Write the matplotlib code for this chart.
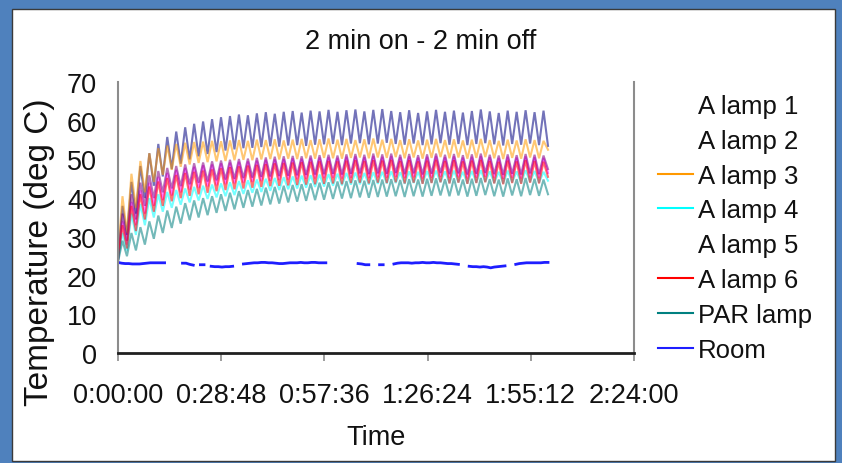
import numpy as np
import matplotlib
matplotlib.use("Agg")
import matplotlib.pyplot as plt
from matplotlib.lines import Line2D
from matplotlib.patches import Rectangle

plt.rcParams['font.family'] = ['Liberation Sans', 'DejaVu Sans']

# ---------------- data ----------------
title = "2 min on - 2 min off"
x_label = "Time"
y_label = "Temperature (deg C)"
x_tick_minutes = [0, 28.8, 57.6, 86.4, 115.2, 144]
x_tick_labels = ["0:00:00", "0:28:48", "0:57:36", "1:26:24", "1:55:12", "2:24:00"]
y_ticks = [0, 10, 20, 30, 40, 50, 60, 70]

lamp_sample_min = 1.25   # start, then alternating peak / trough readings
room_sample_min = 1.0

series_names = ["A lamp 1", "A lamp 2", "A lamp 3", "A lamp 4",
                "A lamp 5", "A lamp 6", "PAR lamp", "Room"]

lamp1_start = 24.0
lamp1_peaks = [38.0, 44.2, 48.3, 51.6, 54.0, 55.8, 57.2, 58.3, 59.2, 59.8,
               60.4, 60.9, 61.2, 61.6, 61.4, 61.9, 62.2, 61.8, 62.3, 62.5,
               62.1, 62.6, 62.4, 62.8, 62.3, 62.7, 62.9, 62.4, 62.8, 63.0,
               62.5, 62.2, 62.7, 62.0, 62.4, 62.8, 62.3, 62.6, 62.1, 62.5,
               62.9, 62.4, 62.0, 62.6, 62.3, 62.7, 62.2, 62.6]
lamp1_troughs = [30.5, 36.0, 40.0, 43.2, 45.6, 47.5, 48.9, 50.0, 50.8, 51.4,
                 51.9, 52.3, 52.6, 52.9, 53.0, 53.2, 53.4, 53.3, 53.6, 53.7,
                 53.5, 53.8, 53.9, 54.0, 53.7, 54.1, 54.2, 53.9, 54.1, 54.3,
                 54.0, 53.8, 54.1, 53.7, 53.9, 54.2, 53.8, 54.0, 53.7, 54.0,
                 54.2, 53.9, 53.6, 54.0, 53.8, 54.1, 53.7, 53.5]

lamp2_start = 24.0
lamp2_peaks = [34.0, 39.0, 42.0, 44.0, 45.5, 46.5, 47.3, 47.8, 48.1, 48.5,
               48.7, 49.0, 49.2, 49.4, 49.5, 49.7, 49.9, 50.0, 50.1, 50.3,
               50.2, 50.4, 50.5, 50.6, 50.4, 50.7, 50.8, 50.6, 50.9, 50.7,
               50.9, 50.6, 50.8, 50.5, 50.7, 50.9, 50.6, 50.8, 50.5, 50.7,
               50.9, 50.6, 50.4, 50.7, 50.5, 50.8, 50.6, 50.4]
lamp2_troughs = [28.0, 33.0, 36.0, 38.0, 39.5, 40.7, 41.5, 42.2, 42.6, 43.0,
                 43.3, 43.6, 43.8, 44.0, 44.2, 44.4, 44.5, 44.7, 44.8, 44.9,
                 45.0, 45.1, 45.2, 45.3, 45.1, 45.3, 45.4, 45.2, 45.4, 45.3,
                 45.5, 45.2, 45.4, 45.1, 45.3, 45.5, 45.2, 45.4, 45.1, 45.3,
                 45.5, 45.2, 45.0, 45.3, 45.1, 45.4, 45.2, 46.5]

lamp3_start = 25.0
lamp3_peaks = [40.5, 46.3, 49.6, 51.6, 52.9, 53.6, 54.0, 54.3, 54.5, 54.6,
               54.8, 54.7, 54.9, 55.0, 54.8, 55.1, 55.0, 55.2, 54.9, 55.1,
               55.3, 55.0, 55.2, 55.4, 55.1, 55.3, 55.0, 55.2, 55.4, 55.1,
               55.3, 55.0, 55.2, 54.9, 55.1, 55.3, 55.0, 55.2, 54.9, 55.1,
               55.3, 55.0, 54.8, 55.1, 54.9, 55.2, 55.0, 54.8]
lamp3_troughs = [31.0, 37.5, 41.5, 44.2, 46.0, 47.3, 48.1, 48.7, 49.1, 49.3,
                 49.5, 49.6, 49.8, 49.9, 49.8, 50.0, 50.1, 50.0, 50.2, 50.1,
                 50.3, 50.2, 50.4, 50.3, 50.2, 50.4, 50.5, 50.3, 50.5, 50.4,
                 50.6, 50.3, 50.5, 50.2, 50.4, 50.6, 50.3, 50.5, 50.2, 50.4,
                 50.6, 50.3, 50.1, 50.4, 50.2, 50.5, 50.3, 52.5]

lamp4_start = 24.0
lamp4_peaks = [31.0, 36.0, 38.5, 40.0, 41.0, 41.6, 42.1, 42.5, 42.9, 43.2,
               43.5, 43.8, 44.1, 44.4, 44.6, 44.8, 45.0, 45.2, 45.4, 45.6,
               45.8, 45.9, 46.1, 46.2, 46.3, 46.5, 46.6, 46.5, 46.7, 46.8,
               46.9, 46.7, 46.9, 46.8, 47.0, 47.1, 46.9, 47.1, 46.8, 47.0,
               47.2, 46.9, 46.8, 47.1, 46.9, 47.2, 47.0, 46.8]
lamp4_troughs = [26.5, 30.5, 33.0, 35.0, 36.5, 37.5, 38.3, 38.9, 39.4, 39.8,
                 40.2, 40.5, 40.8, 41.1, 41.4, 41.6, 41.9, 42.1, 42.3, 42.5,
                 42.7, 42.9, 43.0, 43.2, 43.3, 43.5, 43.6, 43.5, 43.7, 43.8,
                 43.9, 43.7, 43.9, 43.8, 44.0, 44.1, 43.9, 44.1, 43.8, 44.0,
                 44.2, 43.9, 43.8, 44.1, 43.9, 44.2, 44.0, 44.5]

lamp5_start = 24.0
lamp5_peaks = [36.0, 41.0, 44.0, 45.9, 47.0, 47.8, 48.3, 48.7, 49.0, 49.2,
               49.5, 49.7, 49.9, 50.1, 50.2, 50.4, 50.5, 50.7, 50.8, 50.9,
               50.8, 51.0, 51.1, 51.2, 51.0, 51.3, 51.4, 51.2, 51.5, 51.3,
               51.5, 51.2, 51.4, 51.1, 51.3, 51.5, 51.2, 51.4, 51.1, 51.3,
               51.5, 51.2, 51.0, 51.3, 51.1, 51.4, 51.2, 51.0]
lamp5_troughs = [29.0, 34.5, 38.0, 40.0, 41.5, 42.5, 43.1, 43.6, 44.0, 44.3,
                 44.6, 44.8, 45.0, 45.2, 45.3, 45.5, 45.6, 45.7, 45.8, 45.9,
                 46.0, 46.1, 46.2, 46.3, 46.1, 46.3, 46.4, 46.2, 46.4, 46.3,
                 46.5, 46.2, 46.4, 46.1, 46.3, 46.5, 46.2, 46.4, 46.1, 46.3,
                 46.5, 46.2, 46.0, 46.3, 46.1, 46.4, 46.2, 47.5]

lamp6_start = 24.0
lamp6_peaks = [33.0, 38.0, 41.0, 43.0, 44.3, 45.2, 46.0, 46.5, 46.8, 47.1,
               47.4, 47.7, 48.0, 48.2, 48.4, 48.6, 48.8, 49.0, 49.1, 49.2,
               49.3, 49.4, 49.5, 49.6, 49.5, 49.7, 49.8, 49.6, 49.8, 49.7,
               49.9, 49.6, 49.8, 49.5, 49.7, 49.9, 49.6, 49.8, 49.5, 49.7,
               49.9, 49.6, 49.4, 49.7, 49.5, 49.8, 49.6, 49.4]
lamp6_troughs = [27.0, 31.5, 34.5, 36.5, 38.0, 39.2, 40.0, 40.6, 41.0, 41.4,
                 41.8, 42.1, 42.3, 42.5, 42.7, 42.9, 43.1, 43.2, 43.3, 43.4,
                 43.5, 43.6, 43.7, 43.8, 43.6, 43.9, 44.0, 43.8, 44.0, 43.9,
                 44.1, 43.8, 44.0, 43.7, 43.9, 44.1, 43.8, 44.0, 43.7, 43.9,
                 44.1, 43.8, 43.6, 43.9, 43.7, 44.0, 43.8, 45.5]

par_start = 23.5
par_peaks = [29.0, 31.0, 32.5, 34.0, 35.5, 36.8, 37.8, 38.7, 39.4, 40.0,
             40.5, 41.0, 41.4, 41.8, 42.1, 42.4, 42.7, 42.9, 43.2, 43.4,
             43.6, 43.8, 44.0, 44.1, 44.3, 44.4, 44.6, 44.5, 44.7, 44.8,
             44.9, 44.7, 44.9, 44.8, 45.0, 45.1, 44.9, 45.1, 44.8, 45.0,
             45.2, 44.9, 44.8, 45.1, 44.9, 45.2, 45.0, 44.8]
par_troughs = [25.0, 26.5, 28.0, 29.5, 31.0, 32.3, 33.4, 34.3, 35.0, 35.6,
               36.2, 36.7, 37.1, 37.5, 37.8, 38.1, 38.4, 38.6, 38.9, 39.1,
               39.3, 39.5, 39.6, 39.8, 39.9, 40.0, 40.2, 40.1, 40.3, 40.4,
               40.5, 40.3, 40.5, 40.4, 40.6, 40.7, 40.5, 40.7, 40.4, 40.6,
               40.8, 40.5, 40.4, 40.7, 40.5, 40.8, 40.6, 41.0]

nan = float('nan')
room_values = [23.4, 23.2, 23.1, 23.1, 23.0, 23.0, 23.0, 23.1, 23.2, 23.3,
               23.3, 23.3, 23.3, 23.3, nan, nan, nan, nan, 23.2, 23.2,
               22.9, 22.7, nan, 22.8, 22.8, nan, 22.4, 22.3, 22.3, 22.2,
               22.3, 22.3, 22.4, nan, nan, 23.0, 23.1, 23.2, 23.3, 23.3,
               23.4, 23.4, 23.3, 23.3, 23.2, 23.1, 23.1, 23.2, 23.3, 23.3,
               23.3, 23.4, 23.3, 23.3, 23.4, 23.4, 23.3, 23.3, 23.3, nan,
               nan, nan, nan, nan, nan, nan, nan, 23.1, 23.0, 22.8,
               22.8, nan, nan, 22.8, 22.8, nan, nan, 23.0, 23.2, 23.3,
               23.3, 23.3, 23.2, 23.3, 23.3, 23.4, 23.3, 23.3, 23.4, 23.3,
               23.3, 23.2, 23.1, 23.1, 23.0, 22.9, nan, nan, 22.4, 22.3,
               22.3, 22.2, 22.3, 22.2, 22.0, 22.2, 22.3, 22.4, 22.5, nan,
               nan, 22.9, 23.1, 23.2, 23.3, 23.3, 23.3, 23.3, 23.3, 23.4,
               23.4]

lamp_colors = ["#000080", "#FF00FF", "#FF9900", "#00FFFF",
               "#800080", "#FF0000", "#008080"]
room_color = "#1E1EFF"
legend_visible = [False, False, True, True, False, True, True, True]


def lamp_series(start, peaks, troughs):
    vals = [start]
    for p, t in zip(peaks, troughs):
        vals.append(p)
        vals.append(t)
    return np.array(vals)


lamps = [lamp_series(lamp1_start, lamp1_peaks, lamp1_troughs),
         lamp_series(lamp2_start, lamp2_peaks, lamp2_troughs),
         lamp_series(lamp3_start, lamp3_peaks, lamp3_troughs),
         lamp_series(lamp4_start, lamp4_peaks, lamp4_troughs),
         lamp_series(lamp5_start, lamp5_peaks, lamp5_troughs),
         lamp_series(lamp6_start, lamp6_peaks, lamp6_troughs),
         lamp_series(par_start, par_peaks, par_troughs)]

# ---------------- figure ----------------
W, H = 842, 464
fig = plt.figure(figsize=(W / 100, H / 100), dpi=100)
fig.patch.set_facecolor("#4F81BD")
fig.patches.append(Rectangle((12 / W, 2 / H), (835 - 12) / W, (454 - 2) / H,
                             transform=fig.transFigure, facecolor="white",
                             edgecolor="#3A3A3A", linewidth=1.0, zorder=-10))

ax = fig.add_axes([118 / W, 1 - 354 / H, (634 - 118) / W, (354 - 83) / H])
ax.set_facecolor("none")
ax.set_zorder(5)

for vals, col in zip(lamps, lamp_colors):
    t = np.arange(len(vals)) * lamp_sample_min
    ax.plot(t, vals, color=col, lw=1.5, alpha=0.55, solid_joinstyle="miter")
room_t = np.arange(len(room_values)) * room_sample_min
ax.plot(room_t, room_values, color=room_color, lw=2.0)

ax.set_xlim(0, 144)
ax.set_ylim(0, 70)
ax.set_xticks(x_tick_minutes)
ax.set_xticklabels(x_tick_labels)
ax.set_yticks(y_ticks)
ax.set_yticks([0], minor=True)

ax.spines["top"].set_visible(False)
ax.spines["left"].set_color("#8C8C8C")
ax.spines["left"].set_linewidth(1.5)
ax.spines["right"].set_color("#8C8C8C")
ax.spines["right"].set_linewidth(1.5)
ax.spines["bottom"].set_color("#202020")
ax.spines["bottom"].set_linewidth(2.0)

ax.tick_params(axis="x", direction="out", length=6, width=1.2, color="#8C8C8C",
               labelsize=19.5, pad=15, labelcolor="#111111")
ax.tick_params(axis="y", which="major", length=0, labelsize=19.5, pad=15,
               labelcolor="#111111")
ax.tick_params(axis="y", which="minor", length=8, width=2.0, color="#202020")

fig.text(421 / W, 1 - 42 / H, title, ha="center", va="center", fontsize=19.5,
         color="#111111")
fig.text(376 / W, 1 - 438 / H, x_label, ha="center", va="center", fontsize=19.5,
         color="#111111")
fig.text(40 / W, 1 - 252 / H, y_label, ha="center", va="center", fontsize=24,
         rotation=90, color="#111111")

handles = []
for i, name in enumerate(series_names):
    col = lamp_colors[i] if i < 7 else room_color
    if legend_visible[i]:
        handles.append(Line2D([], [], color=col, lw=1.5))
    else:
        handles.append(Line2D([], [], color="none", lw=1.5))
leg = fig.legend(handles, series_names, loc="upper left",
                 bbox_to_anchor=(658 / W, 1 - 95 / H), frameon=False,
                 fontsize=18.5, handlelength=1.35, handletextpad=0.2,
                 labelspacing=0.42, borderpad=0, borderaxespad=0)
for txt in leg.get_texts():
    txt.set_color("#111111")

fig.savefig("out.png", dpi=100, facecolor=fig.get_facecolor())
